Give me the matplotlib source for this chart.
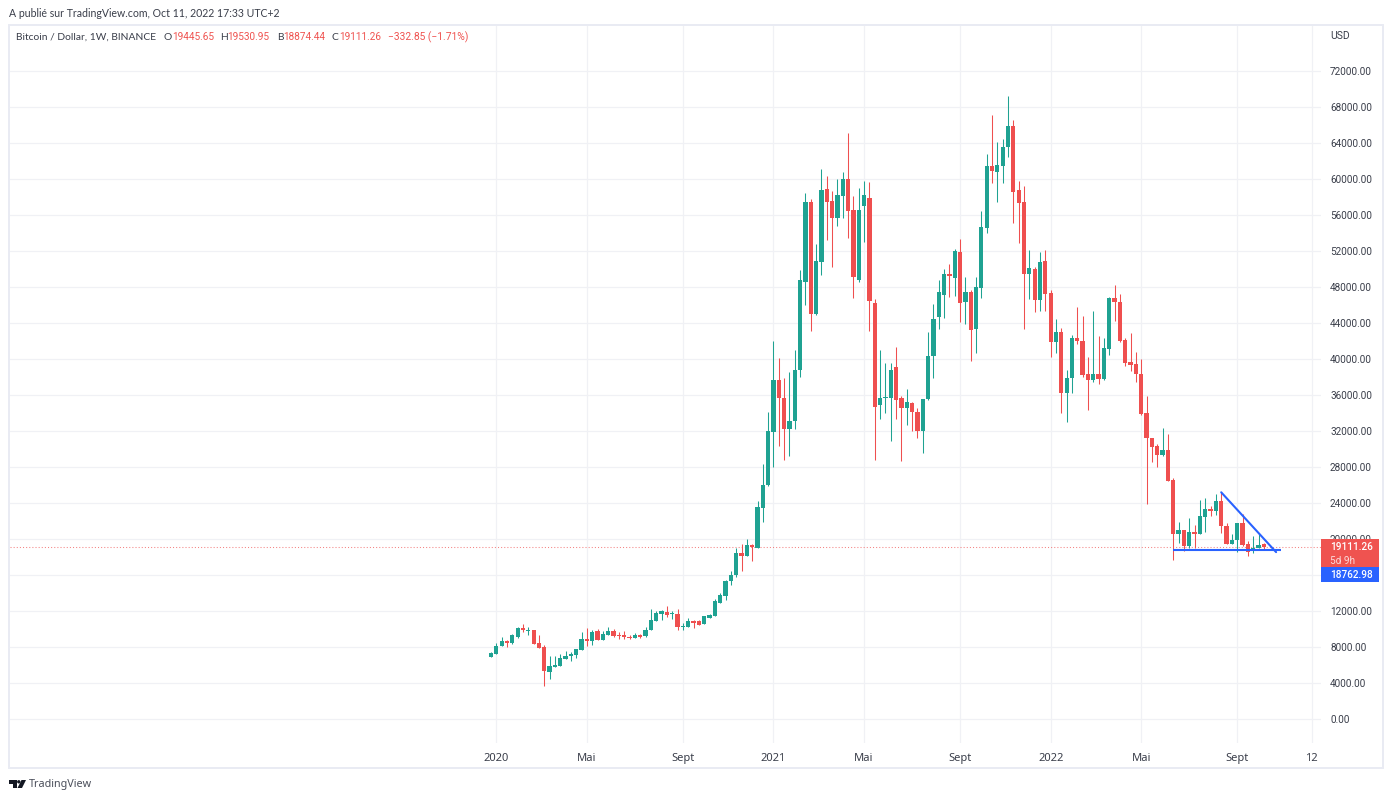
import matplotlib
matplotlib.use("Agg")
import matplotlib.pyplot as plt
from matplotlib.patches import Rectangle, Polygon, Circle
from matplotlib.transforms import Affine2D

# weekly BTC candles
opens = [6840, 7170, 8100, 8620, 8430, 9100, 10100, 9800, 9920, 8430,
         7950, 5200, 5730, 5880, 6690, 6950, 7060, 7690, 8910, 8650,
         9730, 8730, 9360, 9730, 9360, 9280, 9140, 9030, 9280, 9170,
         9840, 10880, 11620, 11880, 11620, 11690, 10210, 10210, 10880, 10840,
         10510, 11210, 11430, 12920, 13700, 15330, 15960, 18400, 18140, 19290,
         19030, 23480, 25960, 31900, 37640, 35710, 32190, 33080, 38830, 48570,
         57430, 44980, 50800, 58840, 57540, 55690, 58100, 59950, 56540, 48760,
         57030, 57880, 46200, 34900, 35640, 35640, 39090, 35640, 34530, 35080,
         34120, 32000, 35530, 40310, 44640, 47090, 49430, 49020, 51911, 46315,
         47460, 43350, 47870, 54545, 61440, 60735, 61440, 63515, 65890, 58770,
         57435, 49390, 49950, 46540, 50840, 47280, 41900, 42966, 36220, 37850,
         42300, 42040, 38370, 37630, 38370, 37775, 41150, 46750, 46375, 42115,
         39630, 39405, 38370, 34045, 31265, 30300, 29300, 29860, 26520, 20515,
         20960, 19220, 20775, 20590, 22480, 23295, 23075, 24220, 21480, 19400,
         19850, 21775, 19400, 18660, 18960, 19445.65]
highs = [7430, 8430, 9130, 8730, 9470, 10210, 10510, 10210, 9920, 9320,
         8250, 6950, 6950, 7250, 7540, 7430, 7730, 9620, 10140, 9920,
         10030, 9730, 10210, 10030, 9620, 9730, 9360, 9540, 9470, 10210,
         12180, 11990, 12140, 12510, 11950, 12180, 10620, 11210, 11030, 11030,
         11400, 11690, 13290, 14030, 15400, 16500, 19030, 19480, 20030, 19480,
         24260, 28300, 34160, 42050, 40160, 37860, 38600, 41050, 49870, 58400,
         57730, 52830, 61100, 60325, 58660, 59950, 60730, 65070, 58100, 58950,
         59770, 59620, 46720, 40980, 39570, 39570, 41350, 35860, 36710, 35230,
         34600, 35600, 43050, 46160, 48760, 49980, 50540, 52200, 53280, 49130,
         47650, 49060, 56470, 62770, 67070, 64110, 64400, 69220, 66550, 59730,
         59215, 52100, 50240, 51910, 52100, 47650, 44390, 43485, 38815, 42630,
         45780, 44745, 40260, 45300, 42520, 42300, 46895, 48190, 47190, 42370,
         42890, 40740, 39960, 35885, 31265, 30600, 32380, 31635, 26815, 21885,
         20960, 22370, 21590, 24295, 24590, 23630, 24960, 25220, 21810, 20590,
         21775, 22740, 19735, 20290, 20515, 19530.95]
lows = [6840, 7170, 8100, 7950, 8360, 9030, 9660, 9320, 8360, 7840,
        3720, 4390, 5730, 5880, 6620, 6430, 6730, 7690, 8060, 8250,
        8730, 8730, 9280, 9100, 8840, 8910, 8910, 9030, 9030, 9100,
        9840, 10880, 11030, 11320, 11100, 9840, 9840, 10210, 10100, 10470,
        10510, 11210, 11430, 12920, 13180, 14850, 15800, 16500, 18140, 17550,
        19030, 21890, 25890, 28000, 30300, 28740, 29220, 32190, 38010, 45980,
        43160, 44870, 49310, 53210, 50240, 54800, 55620, 53500, 46800, 48570,
        52950, 43160, 28820, 33380, 34050, 30900, 33340, 28630, 32640, 31970,
        31260, 29600, 35420, 37900, 43380, 44570, 46900, 46980, 44130, 43940,
        39790, 40680, 46800, 54025, 59590, 57470, 59590, 62480, 55140, 52910,
        43350, 46650, 45240, 45350, 45350, 40235, 40680, 34030, 32960, 36220,
        41630, 38000, 34290, 37440, 37180, 37630, 40410, 44190, 41890, 39185,
        38665, 37405, 33735, 23850, 28560, 28000, 29225, 26410, 17620, 19590,
        18625, 19030, 18995, 20590, 20775, 22515, 22630, 20660, 19400, 19400,
        18550, 19220, 18105, 18440, 18960, 18874.44]
closes = [7280, 8100, 8620, 8430, 9280, 10100, 9840, 9920, 8360, 7840,
          5320, 5840, 5950, 6800, 6950, 7170, 7730, 8910, 8620, 9620,
          8730, 9400, 9730, 9250, 9250, 9060, 8950, 9280, 9140, 9920,
          11000, 11730, 11950, 11580, 11730, 10210, 10320, 10880, 10620, 10470,
          11400, 11510, 13070, 13730, 15330, 15960, 18400, 18140, 19290, 19070,
          23550, 26000, 31970, 37640, 35640, 32230, 33150, 38830, 48760, 57430,
          44980, 50870, 58770, 57470, 55690, 58250, 59950, 56470, 49090, 56540,
          58250, 46460, 34680, 35680, 35820, 38830, 35450, 34530, 35190, 34150,
          32000, 35600, 40350, 44500, 47460, 49500, 49170, 51985, 46240, 47390,
          43200, 47945, 54690, 61440, 60920, 61510, 63590, 65890, 58580, 57360,
          49390, 50060, 46540, 50760, 47205, 41900, 43015, 36220, 37850, 42300,
          41965, 38185, 37630, 38370, 37775, 41220, 46750, 46300, 42040, 39555,
          39335, 38295, 33920, 31180, 30190, 29300, 29860, 26410, 20550, 20960,
          19220, 20775, 20590, 22555, 23295, 23075, 24220, 21405, 19400, 19885,
          21775, 19290, 18510, 18960, 19365, 19111.26]

price_ticks = list(range(0, 76000, 4000))
hidden_price_label = 16000  # sits under the blue tag
time_tick_bars = [1, 18, 36, 53, 70, 88, 105, 122, 140, 154]
time_tick_labels = ["2020", "Mai", "Sept", "2021", "Mai", "Sept", "2022", "Mai", "Sept", "12"]

# drawn trend lines: bar index, price
support_bars = [128, 148.2]
support_prices = [18762.98, 18762.98]
falling_bars = [137, 147.3]
falling_prices = [25190, 18540]

GREEN = "#1fa292"
RED = "#ef4f4f"
BLUE = "#2962ff"
GRID = "#f0f1f5"
FRAME = "#e9ebf3"
TEXT = "#3a3e4a"
NUM_FONT = ["Roboto", "DejaVu Sans"]
LABEL_FONT = ["Lato", "DejaVu Sans"]

plt.rcParams["font.family"] = ["Noto Sans", "DejaVu Sans"]

fig = plt.figure(figsize=(13.92, 8), dpi=100, facecolor="white")
px = Affine2D().scale(1 / 1392, -1 / 800).translate(0, 1) + fig.transFigure

# plot area is x 10..1321, y 25..743 in pixels
ax = fig.add_axes([10 / 1392, 1 - 743 / 800, 1311 / 1392, 718 / 800])
ax.set_xlim((10 - 491) / 5.33, (1321 - 491) / 5.33)
ax.set_ylim(-(743 - 719) / 0.009, (719 - 25) / 0.009)
for s in ax.spines.values():
    s.set_visible(False)

ax.set_yticks(price_ticks)
ax.set_yticklabels(["" if p == hidden_price_label else f"{p:.2f}" for p in price_ticks],
                   family=NUM_FONT, va="center_baseline")
ax.set_xticks(time_tick_bars)
ax.set_xticklabels(time_tick_labels)
ax.yaxis.tick_right()
ax.tick_params(axis="y", length=0, pad=6.5, labelsize=7.2, labelcolor=TEXT)
ax.tick_params(axis="x", length=0, pad=7, labelsize=8, labelcolor=TEXT)
ax.set_axisbelow(True)
ax.grid(True, color=GRID, lw=0.9)

for i in range(len(opens)):
    color = GREEN if closes[i] >= opens[i] else RED
    ax.vlines(i, lows[i], highs[i], color=color, lw=0.75, zorder=2)
    ax.bar(i, abs(closes[i] - opens[i]), bottom=min(opens[i], closes[i]), width=0.8,
           color=color, lw=0, zorder=3)

ax.axhline(closes[-1], color=RED, lw=0.75, ls=(0, (1, 2)), alpha=0.7, zorder=1.5)
ax.plot(support_bars, support_prices, color=BLUE, lw=1.5, zorder=4, solid_capstyle="butt")
ax.plot(falling_bars, falling_prices, color=BLUE, lw=1.5, zorder=4, solid_capstyle="round")

# outer frame
fig.add_artist(Rectangle((8.5, 24.5), 1374, 743.5, transform=px, fill=False, ec=FRAME, lw=1.4))

# price tags on the axis, on top of the tick labels
ax.add_patch(Rectangle((1321, 539), 58, 28, transform=px, fc="#ef5350", ec="none", zorder=6, clip_on=False))
ax.add_patch(Rectangle((1321, 567), 58, 15, transform=px, fc=BLUE, ec="none", zorder=6, clip_on=False))
ax.text(1330, 547.5, f"{closes[-1]:.2f}", transform=px, color="white", fontsize=7.2, family=NUM_FONT,
        fontweight="medium", va="center", zorder=7, clip_on=False)
ax.text(1330, 560.5, "5d 9h", transform=px, color="#fbdcdc", fontsize=7.2, family=NUM_FONT,
        va="center", zorder=7, clip_on=False)
ax.text(1330, 575.5, "18762.98", transform=px, color="white", fontsize=7.2, family=NUM_FONT,
        fontweight="medium", va="center", zorder=7, clip_on=False)
ax.text(1330, 36, "USD", transform=px, color=TEXT, fontsize=7.5, family=NUM_FONT, va="center", clip_on=False)

# header and legend
fig.text(9, 13.5, "A publié sur TradingView.com, Oct 11, 2022 17:33 UTC+2", transform=px,
         color=TEXT, fontsize=7.6, family=LABEL_FONT, va="center")
fig.text(16, 37.5, "Bitcoin / Dollar, 1W, BINANCE", transform=px, color=TEXT, fontsize=7.4,
         family=LABEL_FONT, va="center")
for x, letter, vx, value in [(164, "O", 172, opens[-1]), (220, "H", 227, highs[-1]),
                             (277, "B", 283, lows[-1]), (332, "C", 339, closes[-1])]:
    fig.text(x, 37.5, letter, transform=px, color=TEXT, fontsize=7.4, family=LABEL_FONT, va="center")
    fig.text(vx, 37.5, f"{value:.2f}", transform=px, color="#ef5350", fontsize=7.2, family=NUM_FONT, va="center")
fig.text(388, 37.5, "\u2212332.85 (\u22121.71%)", transform=px, color="#ef5350", fontsize=7.4,
         family=NUM_FONT, va="center")

# footer logo and name
fig.add_artist(Polygon([(9, 780), (17, 780), (17, 788), (12.5, 788), (12.5, 783.5), (9, 783.5)],
                       transform=px, fc="#131722", ec="none"))
fig.add_artist(Circle((18.8, 781.8), 1.7, transform=px, fc="#131722", ec="none"))
fig.add_artist(Polygon([(21.5, 780), (26, 780), (22, 788), (17.5, 788)], transform=px, fc="#131722", ec="none"))
fig.text(29, 784.5, "TradingView", transform=px, color="#4a4e5a", fontsize=7.8, va="center")

fig.savefig("out.png", dpi=100)
